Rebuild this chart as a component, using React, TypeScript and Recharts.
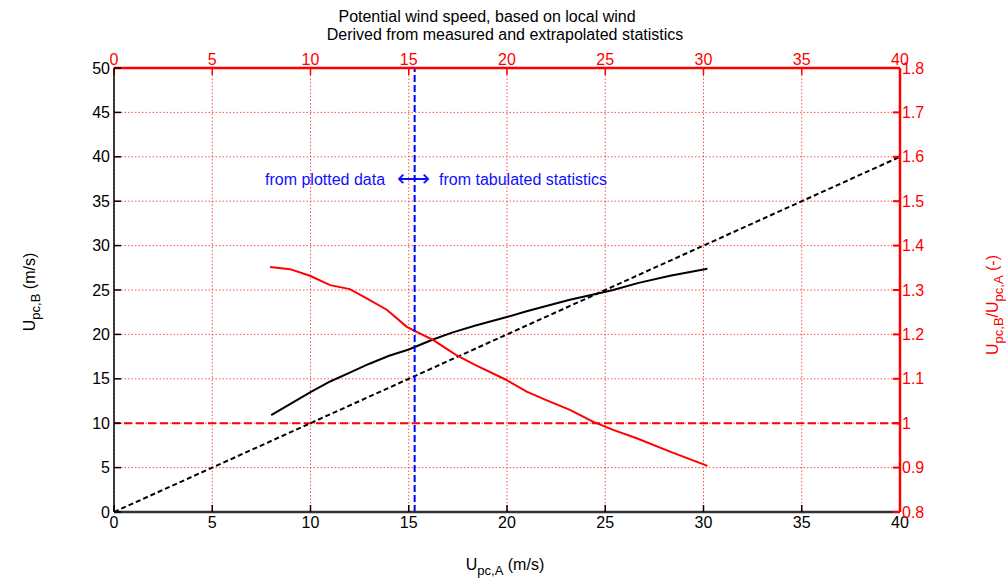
import React from 'react';
import {
  ComposedChart, Line, XAxis, YAxis, CartesianGrid, ReferenceLine, Customized,
} from 'recharts';

// ---- data ----
const xTicks = [0, 5, 10, 15, 20, 25, 30, 35, 40];
const leftTicks = [0, 5, 10, 15, 20, 25, 30, 35, 40, 45, 50];
const rightTicks = [0.8, 0.9, 1, 1.1, 1.2, 1.3, 1.4, 1.5, 1.6, 1.7, 1.8];

const uA = [8.0, 9.0, 10.0, 11.0, 12.0, 13.0, 14.0, 15.0, 16.2, 17.2, 18.4, 19.9, 21.0, 22.0, 23.2, 24.4, 25.4, 26.7, 28.3, 30.2];
const uB = [10.9, 12.2, 13.5, 14.7, 15.7, 16.7, 17.6, 18.3, 19.4, 20.2, 21.0, 21.9, 22.6, 23.2, 23.9, 24.5, 25.0, 25.8, 26.6, 27.4];

const ratioX = [7.94, 8.96, 9.97, 11.0, 12.0, 12.86, 13.9, 14.9, 16.25, 17.4, 18.4, 19.9, 21.0, 22.0, 23.2, 24.4, 25.4, 26.6, 28.3, 30.2];
const ratioY = [1.352, 1.347, 1.332, 1.311, 1.302, 1.281, 1.255, 1.217, 1.187, 1.154, 1.131, 1.099, 1.071, 1.052, 1.030, 1.003, 0.985, 0.966, 0.936, 0.904];

const diagX = [0, 40];
const diagY = [0, 40];

const splitX = 15.3;
const unityRatio = 1;

const titleLines = ['Potential wind speed, based on local wind', 'Derived from measured and extrapolated statistics'];

const speedData = uA.map((x, i) => ({ x, y: uB[i] }));
const ratioData = ratioX.map((x, i) => ({ x, r: ratioY[i] }));
const diagData = diagX.map((x, i) => ({ x, y: diagY[i] }));

const FONT = '"Liberation Sans", Arial, Helvetica, sans-serif';
const FS = 16;
const SUB = 13;

const Overlay = () => (
  <g fontFamily={FONT}>
    <text x={487} y={22} textAnchor="middle" fontSize={FS} fill="#000">{titleLines[0]}</text>
    <text x={505} y={40} textAnchor="middle" fontSize={FS} fill="#000">{titleLines[1]}</text>
    <text x={265} y={185} fontSize={FS} fill="#1010ff">from plotted data</text>
    <text x={397} y={186} fontSize={23} fill="#1010ff" fontFamily="DejaVu Sans">⟷</text>
    <text x={439} y={185} fontSize={FS} fill="#1010ff">from tabulated statistics</text>
    <text transform="translate(35,292) rotate(-90)" textAnchor="middle" fontSize={FS} fill="#000">
      <tspan>U</tspan>
      <tspan fontSize={SUB} dy={5}>pc,B</tspan>
      <tspan dy={-5}> (m/s)</tspan>
    </text>
    <text transform="translate(998,305) rotate(-90)" textAnchor="middle" fontSize={FS} fill="#ff0000">
      <tspan>U</tspan>
      <tspan fontSize={SUB} dy={5}>pc,B</tspan>
      <tspan dy={-5}>/U</tspan>
      <tspan fontSize={SUB} dy={5}>pc,A</tspan>
      <tspan dy={-5}> (-)</tspan>
    </text>
    <text x={505} y={570} textAnchor="middle" fontSize={FS} fill="#000">
      <tspan>U</tspan>
      <tspan fontSize={SUB} dy={5}>pc,A</tspan>
      <tspan dy={-5}> (m/s)</tspan>
    </text>
  </g>
);

export default function App() {
  return (
    <div style={{ position: 'absolute', left: 0, top: 0, width: 1008, height: 584, background: '#fff' }}>
      <ComposedChart width={1008} height={584} margin={{ top: 0, right: 0, bottom: 0, left: 0 }}>
        <CartesianGrid
          xAxisId="bottom"
          yAxisId="left"
          stroke="#ff3030"
          strokeOpacity={0.85}
          strokeDasharray="1.5 2"
        />
        <XAxis
          xAxisId="bottom"
          dataKey="x"
          type="number"
          domain={[0, 40]}
          ticks={xTicks}
          orientation="bottom"
          height={72}
          tickSize={-7}
          tickMargin={12}
          axisLine={{ stroke: '#333', strokeWidth: 2.5 }}
          tickLine={{ stroke: '#000', strokeWidth: 1.5 }}
          tick={{ fill: '#000', fontSize: FS, fontFamily: FONT }}
          allowDataOverflow
        />
        <XAxis
          xAxisId="top"
          dataKey="x"
          type="number"
          domain={[0, 40]}
          ticks={xTicks}
          orientation="top"
          height={68}
          tickSize={-7}
          tickMargin={10}
          axisLine={{ stroke: '#ff0000', strokeWidth: 2.5 }}
          tickLine={{ stroke: '#ff0000', strokeWidth: 1.5 }}
          tick={{ fill: '#ff0000', fontSize: FS, fontFamily: FONT }}
          allowDataOverflow
        />
        <YAxis
          yAxisId="left"
          type="number"
          domain={[0, 50]}
          ticks={leftTicks}
          orientation="left"
          width={114}
          tickSize={-7}
          tickMargin={11}
          axisLine={{ stroke: '#000', strokeWidth: 1.5 }}
          tickLine={{ stroke: '#000', strokeWidth: 1.5 }}
          tick={{ fill: '#000', fontSize: FS, fontFamily: FONT }}
          allowDataOverflow
        />
        <YAxis
          yAxisId="right"
          type="number"
          domain={[0.8, 1.8]}
          ticks={rightTicks}
          orientation="right"
          width={108}
          tickSize={-7}
          tickMargin={9}
          tickFormatter={(v: number) => String(v)}
          axisLine={{ stroke: '#ff0000', strokeWidth: 2.5 }}
          tickLine={{ stroke: '#ff0000', strokeWidth: 2 }}
          tick={{ fill: '#ff0000', fontSize: FS, fontFamily: FONT }}
          allowDataOverflow
        />
        <ReferenceLine
          xAxisId="bottom"
          yAxisId="right"
          y={unityRatio}
          stroke="#ff0000"
          strokeWidth={2}
          strokeDasharray="8 4"
        />
        <Line
          xAxisId="bottom"
          yAxisId="left"
          data={diagData}
          dataKey="y"
          type="linear"
          stroke="#000"
          strokeWidth={2}
          strokeDasharray="5 3"
          dot={false}
          isAnimationActive={false}
        />
        <Line
          xAxisId="bottom"
          yAxisId="left"
          data={speedData}
          dataKey="y"
          type="linear"
          stroke="#000"
          strokeWidth={2}
          dot={false}
          isAnimationActive={false}
        />
        <Line
          xAxisId="bottom"
          yAxisId="right"
          data={ratioData}
          dataKey="r"
          type="linear"
          stroke="#ff0000"
          strokeWidth={2}
          dot={false}
          isAnimationActive={false}
        />
        <ReferenceLine
          xAxisId="bottom"
          yAxisId="left"
          x={splitX}
          stroke="#0000ff"
          strokeWidth={2}
          strokeDasharray="7 3"
        />
        <Customized component={Overlay} />
      </ComposedChart>
    </div>
  );
}
